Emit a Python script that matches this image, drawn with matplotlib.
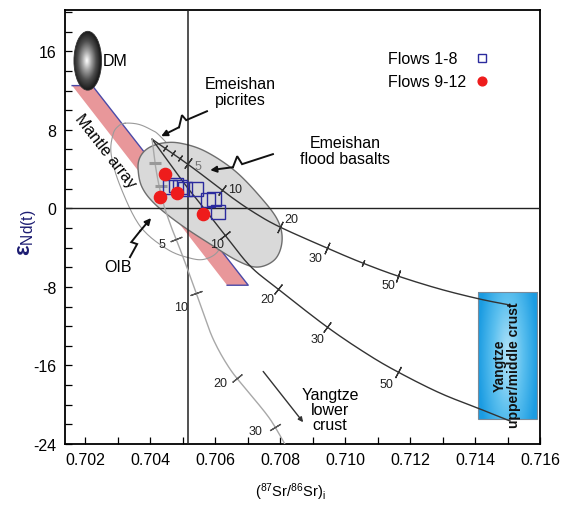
import numpy as np
import matplotlib
matplotlib.use('Agg')
import matplotlib.pyplot as plt
from matplotlib.patches import Ellipse, Polygon, Rectangle
from matplotlib.colors import LinearSegmentedColormap

plt.rcParams['font.family'] = ['Liberation Sans', 'DejaVu Sans']
plt.rcParams['mathtext.fontset'] = 'custom'
plt.rcParams['mathtext.rm'] = 'Liberation Sans'
plt.rcParams['mathtext.it'] = 'Liberation Sans:italic'
plt.rcParams['mathtext.bf'] = 'Liberation Sans:bold'
plt.rcParams['axes.unicode_minus'] = False

# samples
flows_1_8_sr = [0.70462, 0.70480, 0.70492, 0.70508, 0.70542, 0.70578, 0.70597, 0.70609]
flows_1_8_nd = [2.13, 2.36, 2.13, 1.93, 1.93, 0.83, 0.94, -0.39]
flows_9_12_sr = [0.70446, 0.70431, 0.70483, 0.70563]
flows_9_12_nd = [3.48, 1.14, 1.55, -0.59]

# reference lines
sr_ref = 0.70517
nd_ref = 0.0

# reservoirs and fields
dm_center = (0.70208, 15.03)
dm_size = (0.00085, 6.0)
mantle_array_sr = [0.70160, 0.70222, 0.70702, 0.70637]
mantle_array_nd = [12.5, 12.5, -7.83, -7.83]
yangtze_umc_sr = (0.71409, 0.71591)
yangtze_umc_nd = (-21.46, -8.53)

picrite_sr = [0.70323, 0.70363, 0.70400, 0.70431, 0.70508, 0.70585, 0.70622, 0.70609,
              0.70569, 0.70523, 0.70452, 0.70369, 0.70308, 0.70280, 0.70286, 0.70302]
picrite_nd = [8.67, 8.57, 8.06, 7.35, 4.50, 0.94, -2.62, -4.36,
              -5.17, -5.07, -4.15, -1.81, 2.26, 5.52, 7.55, 8.37]
basalt_sr = [0.70363, 0.70369, 0.70394, 0.70437, 0.70492, 0.70569, 0.70662, 0.70745, 0.70794,
             0.70806, 0.70785, 0.70732, 0.70671, 0.70585, 0.70492, 0.70415, 0.70375]
basalt_nd = [3.99, 5.21, 6.13, 6.64, 6.64, 5.82, 3.79, 0.94, -1.30,
             -3.34, -5.17, -5.98, -5.37, -3.64, -1.61, 0.43, 2.16]

# mixing curves (mantle melt + crust), tick = (label, Sr, Nd, label offset in px)
mix_upper_sr = [0.70406, 0.70477, 0.70545, 0.70646, 0.70723, 0.70800, 0.70945, 0.71055,
                0.71163, 0.71292, 0.71415, 0.71508]
mix_upper_nd = [7.04, 5.41, 3.79, 1.24, -0.49, -1.91, -4.05, -5.58, -6.90, -8.22, -9.24, -9.85]
mix_upper_ticks = [('5', 0.70517, 4.60, (10, -3)), ('10', 0.70622, 1.85, (13, 1)),
                   ('20', 0.70800, -1.91, (11, 8)), ('30', 0.70945, -4.05, (-12, -10)),
                   ('', 0.71055, -5.58, (0, 0)), ('50', 0.71163, -6.90, (-10, -9)),
                   ('', 0.70446, 6.13, (0, 0)), ('', 0.70471, 5.62, (0, 0)), ('', 0.70492, 5.11, (0, 0))]

mix_middle_sr = [0.70406, 0.70502, 0.70563, 0.70631, 0.70708, 0.70794, 0.70945, 0.71068,
                 0.71163, 0.71292, 0.71415, 0.71508]
mix_middle_nd = [7.04, 2.67, 0.12, -2.73, -5.88, -8.22, -12.09, -14.84, -16.67, -18.81, -20.43, -21.66]
mix_middle_ticks = [('10', 0.70631, -2.73, (-8, -9)), ('20', 0.70794, -8.22, (-11, -10)),
                    ('30', 0.70945, -12.09, (-10, -12)), ('50', 0.71163, -16.67, (-12, -12))]

mix_lower_sr = [0.70406, 0.70418, 0.70437, 0.70462, 0.70492, 0.70523, 0.70554, 0.70594,
                0.70646, 0.70708, 0.70769, 0.70815]
mix_lower_nd = [7.04, 3.99, 0.94, -1.61, -4.15, -6.90, -9.75, -13.31, -16.37, -18.92, -21.46, -24.02]
mix_lower_ticks = [('5', 0.70480, -3.13, (-14, -5)), ('10', 0.70542, -8.63, (-15, -14)),
                   ('20', 0.70668, -17.29, (-17, -5)), ('30', 0.70785, -22.27, (-20, -4))]
lower_dash_sr = [0.70415, 0.70433]
lower_dash_nd = [4.60, 2.26]

# callout arrows
picrite_arrow = ([0.70575, 0.70511, 0.70498, 0.70489, 0.70434], [9.89, 8.98, 9.49, 8.26, 7.35])
basalt_arrow = ([0.70778, 0.70683, 0.70668, 0.70655, 0.70585], [5.52, 4.50, 5.31, 4.19, 3.89])
oib_arrow = ([0.70338, 0.70360, 0.70342, 0.70369, 0.70403], [-4.97, -3.64, -3.44, -2.32, -0.99])
lower_crust_arrow = ([0.70748, 0.70871], [-16.61, -21.78])


def smooth(xs, ys, closed=False, n=14):
    p = np.column_stack([xs, ys])
    if closed:
        pts = np.vstack([p[-1], p, p[0], p[1]])
    else:
        pts = np.vstack([p[0], p, p[-1]])
    t = np.linspace(0, 1, n, endpoint=False)[:, None]
    out = []
    for i in range(1, len(pts) - 2):
        p0, p1, p2, p3 = pts[i - 1], pts[i], pts[i + 1], pts[i + 2]
        seg = 0.5 * (2 * p1 + (-p0 + p2) * t + (2 * p0 - 5 * p1 + 4 * p2 - p3) * t ** 2
                     + (-p0 + 3 * p1 - 3 * p2 + p3) * t ** 3)
        out.append(seg)
    out.append(pts[-2][None])
    return np.vstack(out)


fig = plt.figure(figsize=(5.72, 5.06), dpi=100)
ax = fig.add_axes([65 / 572, 61 / 506, 475 / 572, 434 / 506])
xlim = (0.70138, 0.716)
ylim = (-24, 20.2)

# DM with grey radial shading
dm = Ellipse(dm_center, dm_size[0], dm_size[1], facecolor='none', edgecolor='#333333', lw=0.6, zorder=3)
ax.add_patch(dm)
gx, gy = np.meshgrid(np.linspace(-1, 1, 200), np.linspace(-1, 1, 200))
r = np.clip(np.sqrt((gx + 0.08) ** 2 + gy ** 2), 0, 1)
grey = LinearSegmentedColormap.from_list('dm', ['#ffffff', '#a0a0a0', '#4d4d4d', '#1a1a1a'])
im = ax.imshow(r, extent=[dm_center[0] - dm_size[0] / 2, dm_center[0] + dm_size[0] / 2,
                          dm_center[1] - dm_size[1] / 2, dm_center[1] + dm_size[1] / 2],
               cmap=grey, origin='lower', aspect='auto', zorder=2.9)
im.set_clip_path(dm)

# Yangtze upper/middle crust box
box = Rectangle((yangtze_umc_sr[0], yangtze_umc_nd[0]), yangtze_umc_sr[1] - yangtze_umc_sr[0],
                yangtze_umc_nd[1] - yangtze_umc_nd[0], facecolor='none', edgecolor='#7a8a99', lw=0.8, zorder=2)
ax.add_patch(box)
rb = np.clip(np.sqrt(gx ** 2 + (0.55 * gy) ** 2), 0, 1)
blue = LinearSegmentedColormap.from_list('umc', ['#b4e4f9', '#5cc0ef', '#1b9ce2'])
im2 = ax.imshow(rb, extent=[yangtze_umc_sr[0], yangtze_umc_sr[1], yangtze_umc_nd[0], yangtze_umc_nd[1]],
                cmap=blue, origin='lower', aspect='auto', zorder=1.9)
im2.set_clip_path(box)
ax.text(np.mean(yangtze_umc_sr) - 0.00003, -15.9, 'Yangtze\nupper/middle crust', rotation=90,
        ha='center', va='center', multialignment='center', fontsize=10, fontweight='bold',
        color='#111111', linespacing=1.0, zorder=5)

# mantle array band
ax.add_patch(Polygon(np.column_stack([mantle_array_sr, mantle_array_nd]), closed=True,
                     facecolor='#e8979a', edgecolor='none', zorder=2))
ax.plot(mantle_array_sr, mantle_array_nd, color='#4a4aa8', lw=1.0, zorder=2.1)

# Emeishan picrites outline and flood basalt field
pic = smooth(picrite_sr, picrite_nd, closed=True)
ax.plot(pic[:, 0], pic[:, 1], color='#9a9a9a', lw=0.8, zorder=2.5)
bas = smooth(basalt_sr, basalt_nd, closed=True)
ax.add_patch(Polygon(bas, closed=True, facecolor='#d9d9d9', edgecolor='#6e6e6e', lw=1.0, zorder=3))

ax.axhline(nd_ref, color='#222222', lw=1.0, zorder=3.5)
ax.axvline(sr_ref, color='#222222', lw=1.1, zorder=3.5)

ax.set_xlim(*xlim)
ax.set_ylim(*ylim)

curves = [
    (mix_upper_sr, mix_upper_nd, mix_upper_ticks, '#333333', 1.0),
    (mix_middle_sr, mix_middle_nd, mix_middle_ticks, '#333333', 1.0),
    (mix_lower_sr, mix_lower_nd, mix_lower_ticks, '#a8a8a8', 1.0),
]
for xs, ys, ticks, color, lw in curves:
    path = smooth(xs, ys)
    ax.plot(path[:, 0], path[:, 1], color=color, lw=lw, zorder=4)
    disp = ax.transData.transform(path)
    for label, tx, ty, off in ticks:
        p = ax.transData.transform([[tx, ty]])[0]
        i = np.argmin(((disp - p) ** 2).sum(1))
        d = disp[min(i + 3, len(disp) - 1)] - disp[max(i - 3, 0)]
        ang = np.degrees(np.arctan2(d[1], d[0]))
        tick_color = '#333333' if color != '#a8a8a8' else '#555555'
        ms = 9 if label else 5
        ax.plot([tx], [ty], marker=(2, 2, ang), ms=ms, mec=tick_color, mew=0.9, ls='none', zorder=4.2)
        if label:
            lc = '#777777' if (label == '5' and color == '#333333') else '#222222'
            ax.annotate(label, (tx, ty), xytext=off, textcoords='offset pixels',
                        ha='center', va='center', fontsize=9, color=lc, zorder=5)
ax.plot(lower_dash_sr, lower_dash_nd, marker='_', ms=8, mew=2.2, color='#999999', ls='none', zorder=4.2)

# callout arrows
for xs, ys in [picrite_arrow, basalt_arrow, oib_arrow]:
    ax.plot(xs[:-1], ys[:-1], color='#111111', lw=1.4, zorder=5, solid_joinstyle='miter')
    ax.annotate('', xy=(xs[-1], ys[-1]), xytext=(xs[-2], ys[-2]),
                arrowprops=dict(arrowstyle='-|>', color='#111111', lw=1.4,
                                mutation_scale=9, shrinkA=0, shrinkB=0), zorder=5)
ax.annotate('', xy=(lower_crust_arrow[0][1], lower_crust_arrow[1][1]),
            xytext=(lower_crust_arrow[0][0], lower_crust_arrow[1][0]),
            arrowprops=dict(arrowstyle='-|>', color='#333333', lw=1.0, mutation_scale=7,
                            shrinkA=0, shrinkB=0), zorder=5)

# samples
ax.plot(flows_1_8_sr, flows_1_8_nd, 's', ms=9.4, mfc='none', mec='#2b2b9e', mew=1.0, zorder=6)
ax.plot(flows_9_12_sr, flows_9_12_nd, 'o', ms=8.8, mfc='#ee1c1c', mec='#ee1c1c', zorder=6.5)

# labels
fs = 11.5
ax.text(0.70255, 15.08, 'DM', fontsize=fs, ha='left', va='center', zorder=5)
ax.text(0.70262, 5.92, 'Mantle array', fontsize=fs, rotation=-52, ha='center', va='center', zorder=5)
ax.text(0.70677, 11.93, 'Emeishan\npicrites', fontsize=fs, ha='center', va='center', linespacing=1.05, zorder=5)
ax.text(0.71000, 5.92, 'Emeishan\nflood basalts', fontsize=fs, ha='center', va='center', linespacing=1.05, zorder=5)
ax.text(0.70302, -5.88, 'OIB', fontsize=fs, ha='center', va='center', zorder=5)
ax.text(0.70954, -20.46, 'Yangtze\nlower\ncrust', fontsize=fs, ha='center', va='center', linespacing=1.0, zorder=5)

# legend
ax.text(0.680, 0.889, 'Flows 1-8', transform=ax.transAxes, fontsize=fs, ha='left', va='center')
ax.text(0.680, 0.836, 'Flows 9-12', transform=ax.transAxes, fontsize=fs, ha='left', va='center')
ax.plot([0.878], [0.889], 's', ms=6.3, mfc='none', mec='#2b2b9e', mew=1.0, transform=ax.transAxes)
ax.plot([0.878], [0.836], 'o', ms=6.3, mfc='#ee1c1c', mec='#ee1c1c', transform=ax.transAxes)

# axes styling
ax.set_xticks(np.arange(0.702, 0.7161, 0.002))
ax.set_xticks(np.arange(0.702, 0.7161, 0.001), minor=True)
ax.set_xticklabels(['%.3f' % v for v in np.arange(0.702, 0.7161, 0.002)])
ax.set_yticks(np.arange(-24, 17, 8))
ax.set_yticks(np.arange(-24, 20.1, 2), minor=True)
ax.tick_params(which='both', direction='in', length=5, width=0.9, top=False, right=False,
               labelsize=fs, pad=6)
ax.set_xlim(*xlim)
ax.set_ylim(*ylim)
for s in ax.spines.values():
    s.set_linewidth(1.3)

fig.text(290 / 572, 1 - 492 / 506, r'$(^{87}\mathrm{Sr}/^{86}\mathrm{Sr})_\mathrm{i}$', fontsize=10.5,
         ha='center', va='center')
fig.text(28 / 572, 1 - 233 / 506, r'$\mathbf{\varepsilon}_{\mathrm{Nd(t)}}$', fontsize=16, rotation=90,
         ha='center', va='center', color='#1c1c72')

fig.savefig('out.png', dpi=100)
